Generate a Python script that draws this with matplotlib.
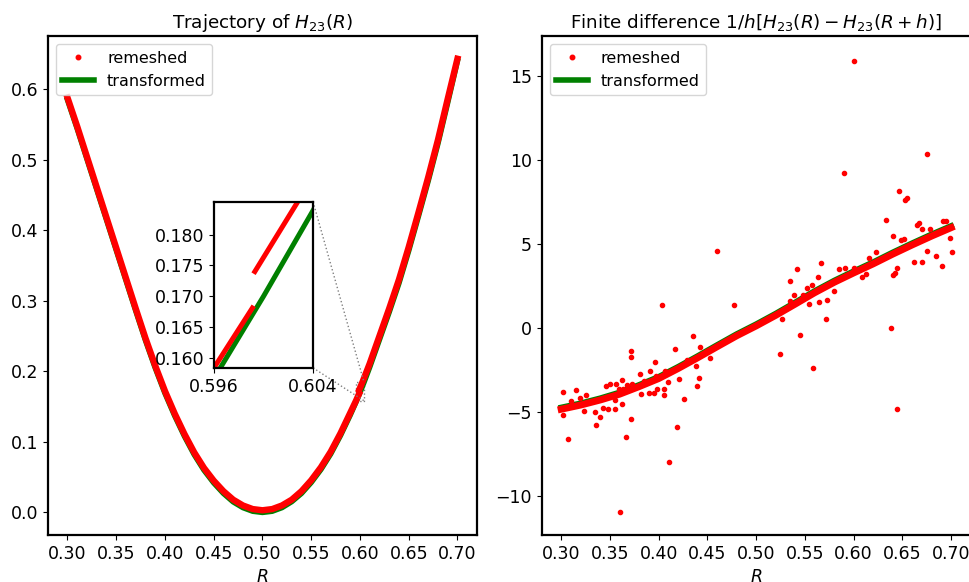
import numpy as np
import matplotlib.pyplot as plt
from matplotlib.lines import Line2D
from mpl_toolkits.axes_grid1.inset_locator import mark_inset

# H23(R) on the transformed grid
r_tr = [0.30, 0.31, 0.32, 0.33, 0.34, 0.35, 0.36, 0.37, 0.38, 0.39,
        0.40, 0.41, 0.42, 0.43, 0.44, 0.45, 0.46, 0.47, 0.48, 0.49,
        0.50, 0.51, 0.52, 0.53, 0.54, 0.55, 0.56, 0.57, 0.58, 0.59,
        0.596, 0.60, 0.604, 0.61, 0.62, 0.63, 0.64, 0.65, 0.66, 0.67,
        0.68, 0.69, 0.70]
h_tr = [0.585, 0.544, 0.501, 0.458, 0.415, 0.372, 0.329, 0.286, 0.244, 0.205,
        0.169, 0.137, 0.108, 0.082, 0.060, 0.042, 0.027, 0.015, 0.0068, 0.0017,
        0.0, 0.0017, 0.0068, 0.0153, 0.027, 0.0425, 0.061, 0.083, 0.109, 0.138,
        0.1567, 0.170, 0.1839, 0.206, 0.245, 0.284, 0.325, 0.371, 0.420, 0.470,
        0.523, 0.581, 0.640]

# H23(R) after remeshing (jumps near R = 0.5992)
r_rm = [0.30, 0.31, 0.32, 0.33, 0.34, 0.35, 0.36, 0.37, 0.38, 0.39,
        0.40, 0.41, 0.42, 0.43, 0.44, 0.45, 0.46, 0.47, 0.48, 0.49,
        0.50, 0.51, 0.52, 0.53, 0.54, 0.55, 0.56, 0.57, 0.58, 0.59,
        0.596, 0.5991, np.nan, 0.5993, 0.6027, 0.61, 0.62, 0.63, 0.64, 0.65,
        0.66, 0.67, 0.68, 0.69, 0.70]
h_rm = [0.588, 0.547, 0.504, 0.461, 0.418, 0.375, 0.332, 0.289, 0.247, 0.208,
        0.172, 0.140, 0.111, 0.085, 0.063, 0.045, 0.030, 0.018, 0.0098, 0.0047,
        0.003, 0.0047, 0.0098, 0.018, 0.030, 0.0455, 0.064, 0.086, 0.112, 0.141,
        0.1584, 0.1681, np.nan, 0.1740, 0.1851, 0.211, 0.250, 0.289, 0.330, 0.376,
        0.425, 0.475, 0.528, 0.586, 0.643]

# finite difference, transformed
r_fd = [0.30, 0.32, 0.34, 0.36, 0.38, 0.40, 0.42, 0.44, 0.46, 0.48, 0.50,
        0.52, 0.54, 0.56, 0.58, 0.60, 0.62, 0.64, 0.66, 0.68, 0.70]
d_tr = [-4.74, -4.49, -4.19, -3.84, -3.39, -2.91, -2.31, -1.67, -1.01, -0.36, 0.23,
        0.86, 1.53, 2.21, 2.83, 3.39, 3.93, 4.51, 5.06, 5.59, 6.09]
# finite difference, remeshed points lying on the curve
d_rm = [-4.85, -4.60, -4.30, -3.95, -3.50, -3.02, -2.42, -1.78, -1.12, -0.47, 0.12,
        0.75, 1.42, 2.10, 2.72, 3.28, 3.82, 4.40, 4.95, 5.48, 5.98]
# finite difference, remeshed points off the curve
r_out = [0.3017, 0.3154, 0.3256, 0.3100, 0.3195, 0.3460, 0.3496, 0.3564, 0.3626, 0.3590,
         0.3680, 0.3728, 0.3810, 0.3850, 0.3910, 0.3974, 0.4067, 0.4050, 0.4255, 0.3017,
         0.3065, 0.3360, 0.3400, 0.3349, 0.3236, 0.3557, 0.3626, 0.3482, 0.3428, 0.3721,
         0.3663, 0.4193, 0.4110, 0.3817, 0.3900, 0.3957, 0.4050, 0.3980, 0.4100, 0.4207,
         0.3554, 0.3639, 0.4036, 0.4170, 0.3715, 0.3715, 0.3967, 0.4290, 0.3605,
         0.4774, 0.4357, 0.4426, 0.4418, 0.4398, 0.4597, 0.4494, 0.4528, 0.4378,
         0.5246, 0.5451, 0.5588, 0.5349, 0.5424, 0.5390, 0.5349, 0.5479, 0.5520, 0.5571,
         0.5670, 0.5636, 0.5547, 0.5643, 0.5718, 0.5731, 0.5264,
         0.5896, 0.6750, 0.6467, 0.6546, 0.6530, 0.6333, 0.6648, 0.6672, 0.6920, 0.6949,
         0.6700, 0.6778, 0.6402, 0.6490, 0.6515, 0.6990, 0.7007, 0.6910, 0.6846, 0.6750,
         0.6703, 0.6617, 0.6443, 0.6419, 0.6402, 0.6382, 0.6231, 0.6162, 0.5854, 0.5913,
         0.6005, 0.6084, 0.6128, 0.5803, 0.6008, 0.6449]
d_out = [-3.81, -3.71, -4.01, -4.37, -4.17, -3.47, -3.37, -3.37, -3.08, -3.67,
         -3.43, -3.32, -2.74, -3.14, -2.58, -2.84, -2.58, -4.01, -4.25, -5.22,
         -6.65, -5.82, -5.30, -5.02, -4.96, -4.86, -4.51, -4.86, -4.80, -5.46,
         -6.53, -5.92, -7.98, -3.93, -3.91, -3.91, -3.63, -3.63, -3.24, -3.02,
         -4.27, -3.63, 1.35, -1.25, -1.35, -1.75, -2.05, -1.89, -10.95,
         1.39, -0.46, -1.15, -2.98, -3.47, 4.60, -1.39, -1.79, -2.28,
         -1.55, -0.42, -2.38, 2.82, 3.51, 1.96, 1.63, 1.96, 2.38, 2.56,
         3.85, 3.01, 1.45, 1.57, 0.55, 1.64, 0.54,
         9.22, 10.37, 8.15, 7.74, 7.64, 6.45, 6.15, 6.25, 6.39, 6.35,
         5.89, 5.89, 5.49, 5.26, 5.33, 5.36, 4.52, 3.71, 4.30, 4.60,
         3.95, 3.91, 3.57, 3.27, 3.17, 0.02, 4.52, 4.17, 3.53, 3.57,
         3.57, 3.01, 3.21, 2.18, 15.95, -4.86]

plt.rcParams['font.size'] = 12.5

fig = plt.figure(figsize=(9.69, 5.82), dpi=100)
ax1 = fig.add_axes([0.0495, 0.0808, 0.4427, 0.857])
ax2 = fig.add_axes([0.559, 0.0808, 0.4427, 0.857])

handles = [Line2D([], [], color='red', marker='.', ls='none', ms=6.5),
           Line2D([], [], color='green', lw=4)]
labels = ['remeshed', 'transformed']

# left: the trajectory itself
ax1.plot(r_tr, h_tr, color='green', lw=4, zorder=2)
ax1.plot(r_rm, h_rm, color='red', lw=4.6, zorder=3)
ax1.set_xlim(0.28, 0.72)
ax1.set_ylim(-0.032, 0.675)
ax1.set_xticks(np.arange(0.30, 0.701, 0.05))
ax1.set_title('Trajectory of $H_{23}(R)$', fontsize=13.2)
ax1.set_xlabel('$R$')
ax1.legend(handles, labels, loc='upper left', fontsize=11.5)

axins = ax1.inset_axes([0.387, 0.335, 0.231, 0.333])
axins.plot(r_tr, h_tr, color='green', lw=3.6)
axins.plot(r_rm, h_rm, color='red', lw=3.6)
axins.set_xlim(0.596, 0.604)
axins.set_ylim(0.1584, 0.1853)
axins.set_xticks([0.596, 0.604])
axins.set_yticks([0.160, 0.165, 0.170, 0.175, 0.180])
axins.set_xticklabels(['0.596', '0.604'])
axins.set_yticklabels(['0.160', '0.165', '0.170', '0.175', '0.180'])
mark_inset(ax1, axins, loc1=1, loc2=4, fc='none', ec='0.5', ls=':', lw=1)

# right: finite difference
ax2.plot(r_fd, d_tr, color='green', lw=4, zorder=2)
ax2.plot(r_fd, d_rm, color='red', lw=5, zorder=3)
ax2.plot(r_out, d_out, '.', color='red', ms=6, zorder=4)
ax2.set_xlim(0.28, 0.72)
ax2.set_ylim(-12.35, 17.4)
ax2.set_xticks(np.arange(0.30, 0.701, 0.05))
ax2.set_yticks([-10, -5, 0, 5, 10, 15])
ax2.set_title('Finite difference $1/h[H_{23}(R)-H_{23}(R+h)]$', fontsize=13.2)
ax2.set_xlabel('$R$')
ax2.legend(handles, labels, loc='upper left', fontsize=11.5)

for a in (ax1, ax2, axins):
    for s in a.spines.values():
        s.set_linewidth(1.6)

fig.savefig('out.png', dpi=100)
